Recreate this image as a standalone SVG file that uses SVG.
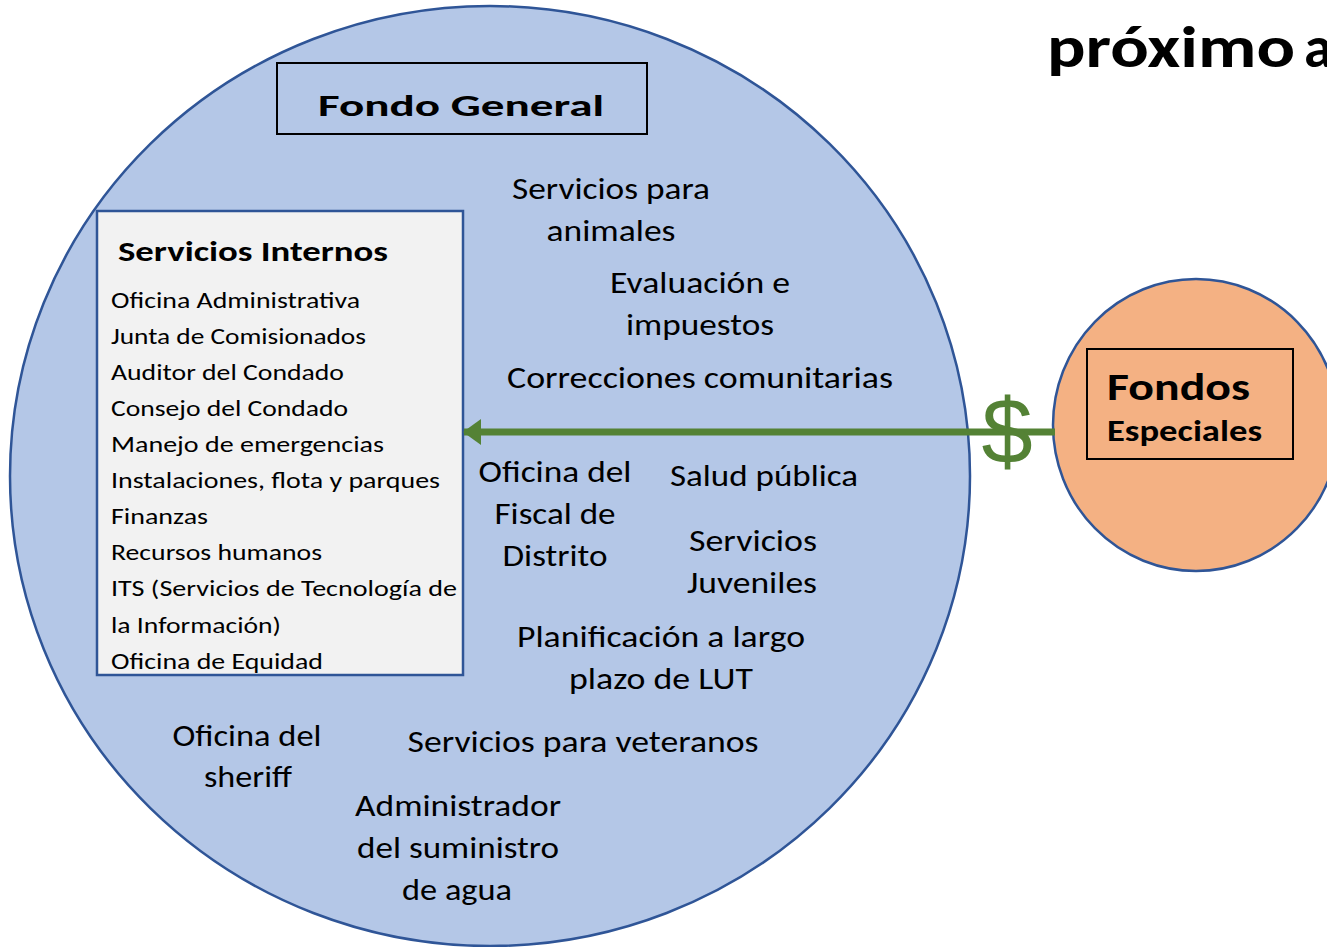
<svg xmlns="http://www.w3.org/2000/svg" width="1327" height="947" viewBox="0 0 1327 947">
<style>
text{font-family:Carlito,Lato,"Liberation Sans",sans-serif;fill:#000}
.t{font-size:31px;text-anchor:middle}
.l{font-size:23px}
.b{font-weight:bold}
</style>
<defs>
<marker id="ah" markerWidth="18" markerHeight="26" refX="17" refY="13" orient="auto" markerUnits="userSpaceOnUse">
<path d="M0,0 L18,13 L0,26 z" fill="#548235"/>
</marker>
</defs>
<rect width="1327" height="947" fill="#fff"/>
<text class="b" x="1047" y="67" font-size="58" textLength="248" lengthAdjust="spacingAndGlyphs">próximo</text>
<text class="b" x="1304" y="67" font-size="58">a</text>

<g id="fondo-general">
<ellipse cx="490" cy="476" rx="480" ry="470" fill="#b4c7e7" stroke="#2f5597" stroke-width="2.5"/>
<rect x="277" y="63" width="370" height="71" fill="#b4c7e7" stroke="#000" stroke-width="2"/>
<text class="t b" x="461" y="116" font-size="38" textLength="286" lengthAdjust="spacingAndGlyphs">Fondo General</text>
</g>

<g id="servicios-internos">
<rect x="97" y="211" width="366" height="464" fill="#f2f2f2" stroke="#2f5597" stroke-width="2.5"/>
<text class="b" x="118" y="261" font-size="29" textLength="270" lengthAdjust="spacingAndGlyphs">Servicios Internos</text>
<text class="l" x="111" y="308" textLength="249" lengthAdjust="spacingAndGlyphs">Oficina Administrativa</text>
<text class="l" x="111" y="344" textLength="255" lengthAdjust="spacingAndGlyphs">Junta de Comisionados</text>
<text class="l" x="111" y="380" textLength="233" lengthAdjust="spacingAndGlyphs">Auditor del Condado</text>
<text class="l" x="111" y="416" textLength="237" lengthAdjust="spacingAndGlyphs">Consejo del Condado</text>
<text class="l" x="111" y="452" textLength="273" lengthAdjust="spacingAndGlyphs">Manejo de emergencias</text>
<text class="l" x="111" y="488" textLength="329" lengthAdjust="spacingAndGlyphs">Instalaciones, flota y parques</text>
<text class="l" x="111" y="524" textLength="97" lengthAdjust="spacingAndGlyphs">Finanzas</text>
<text class="l" x="111" y="560" textLength="211" lengthAdjust="spacingAndGlyphs">Recursos humanos</text>
<text class="l" x="111" y="596" textLength="346" lengthAdjust="spacingAndGlyphs">ITS (Servicios de Tecnología de</text>
<text class="l" x="111" y="633" textLength="170" lengthAdjust="spacingAndGlyphs">la Información)</text>
<text class="l" x="111" y="669" textLength="212" lengthAdjust="spacingAndGlyphs">Oficina de Equidad</text>
</g>

<g id="servicios-animales"><text class="t" x="611" y="199" textLength="198" lengthAdjust="spacingAndGlyphs">Servicios para</text><text class="t" x="611" y="241" textLength="129" lengthAdjust="spacingAndGlyphs">animales</text></g>
<g id="evaluacion"><text class="t" x="700" y="293" textLength="180" lengthAdjust="spacingAndGlyphs">Evaluación e</text><text class="t" x="700" y="335" textLength="148" lengthAdjust="spacingAndGlyphs">impuestos</text></g>
<g id="correcciones"><text class="t" x="700" y="388" textLength="386" lengthAdjust="spacingAndGlyphs">Correcciones comunitarias</text></g>
<g id="fiscal"><text class="t" x="555" y="482" textLength="153" lengthAdjust="spacingAndGlyphs">Oficina del</text><text class="t" x="555" y="524" textLength="121" lengthAdjust="spacingAndGlyphs">Fiscal de</text><text class="t" x="555" y="566" textLength="105" lengthAdjust="spacingAndGlyphs">Distrito</text></g>
<g id="salud"><text class="t" x="764" y="486" textLength="188" lengthAdjust="spacingAndGlyphs">Salud pública</text></g>
<g id="juveniles"><text class="t" x="753" y="551" textLength="128" lengthAdjust="spacingAndGlyphs">Servicios</text><text class="t" x="752" y="593" textLength="130" lengthAdjust="spacingAndGlyphs">Juveniles</text></g>
<g id="planificacion"><text class="t" x="661" y="647" textLength="288" lengthAdjust="spacingAndGlyphs">Planificación a largo</text><text class="t" x="661" y="689" textLength="184" lengthAdjust="spacingAndGlyphs">plazo de LUT</text></g>
<g id="sheriff"><text class="t" x="247" y="746" textLength="149" lengthAdjust="spacingAndGlyphs">Oficina del</text><text class="t" x="248" y="787" textLength="88" lengthAdjust="spacingAndGlyphs">sheriff</text></g>
<g id="veteranos"><text class="t" x="583" y="752" textLength="351" lengthAdjust="spacingAndGlyphs">Servicios para veteranos</text></g>
<g id="agua"><text class="t" x="458" y="816" textLength="206" lengthAdjust="spacingAndGlyphs">Administrador</text><text class="t" x="458" y="858" textLength="202" lengthAdjust="spacingAndGlyphs">del suministro</text><text class="t" x="457" y="900" textLength="110" lengthAdjust="spacingAndGlyphs">de agua</text></g>

<g id="fondos-especiales">
<ellipse cx="1196" cy="425" rx="143" ry="146" fill="#f4b183" stroke="#2f5597" stroke-width="2.5"/>
<rect x="1087" y="349" width="206" height="110" fill="none" stroke="#000" stroke-width="2"/>
<text class="b" x="1107" y="400" font-size="38" textLength="143" lengthAdjust="spacingAndGlyphs">Fondos</text>
<text class="b" x="1107" y="441" font-size="30" textLength="155" lengthAdjust="spacingAndGlyphs">Especiales</text>
</g>

<g id="connectors">
<line x1="1055" y1="432" x2="464" y2="432" stroke="#548235" stroke-width="7" marker-end="url(#ah)"/>
<text x="1007" y="463" font-size="92" text-anchor="middle" style="fill:#548235;font-family:'Liberation Sans',sans-serif">$</text>
</g>
</svg>
